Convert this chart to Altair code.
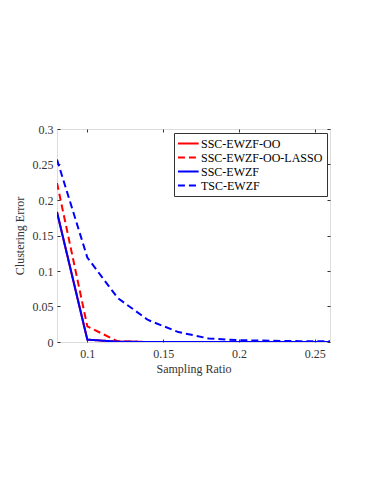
import altair as alt
import pandas as pd

x_vals = [0.08, 0.10, 0.12, 0.14, 0.16, 0.18, 0.20, 0.22, 0.24, 0.26]
ssc_oo = [0.183, 0.0033, 0.0005, 0.0, 0.0, 0.0, 0.0, 0.0, 0.0, 0.0]
ssc_oo_lasso = [0.224, 0.022, 0.001, 0.0, 0.0, 0.0, 0.0, 0.0, 0.0, 0.0]
ssc = [0.183, 0.0033, 0.0005, 0.0, 0.0, 0.0, 0.0, 0.0, 0.0, 0.0]
tsc = [0.257, 0.119, 0.062, 0.031, 0.014, 0.005, 0.0025, 0.0018, 0.0012, 0.001]

names = ["SSC-EWZF-OO", "SSC-EWZF-OO-LASSO", "SSC-EWZF", "TSC-EWZF"]
colors = ["#ff0000", "#ff0000", "#0000ff", "#0000ff"]
dashes = [[1, 0], [7, 4], [1, 0], [7, 4]]
series = {"SSC-EWZF-OO": ssc_oo, "SSC-EWZF-OO-LASSO": ssc_oo_lasso,
          "SSC-EWZF": ssc, "TSC-EWZF": tsc}
draw_order = ["TSC-EWZF", "SSC-EWZF-OO-LASSO", "SSC-EWZF-OO", "SSC-EWZF"]

x_ticks = [0.1, 0.15, 0.2, 0.25]
y_ticks = [0, 0.05, 0.1, 0.15, 0.2, 0.25, 0.3]

rows = []
for n in draw_order:
    for xv, yv in zip(x_vals, series[n]):
        rows.append({"ratio": xv, "err": yv, "method": n})
df = pd.DataFrame(rows)

W, H = 273, 213
FONT = "Times New Roman, Liberation Serif, serif"
GRAY = "#333333"

xscale = alt.Scale(domain=[0.08, 0.26], nice=False, zero=False)
yscale = alt.Scale(domain=[0, 0.3], nice=False)

leg = alt.Legend(title=None, orient="none", legendX=117, legendY=4,
                 symbolType="M-1.25,0H2.7", symbolSize=110, symbolStrokeWidth=2,
                 labelFont=FONT, labelFontSize=12, labelColor="black",
                 labelFontWeight="normal",
                 strokeColor=GRAY, padding=4, rowPadding=1,
                 fillColor="white", labelOffset=10, labelLimit=200)

color_enc = alt.Color("method:N", sort=names,
                      scale=alt.Scale(domain=names, range=colors), legend=leg)
dash_enc = alt.StrokeDash("method:N", sort=names,
                          scale=alt.Scale(domain=names, range=dashes), legend=leg)

x_main = alt.X("ratio:Q", scale=xscale, title="Sampling Ratio",
               axis=alt.Axis(values=x_ticks, tickSize=0, domain=False, grid=False,
                             labelFont=FONT, labelFontSize=12, labelColor=GRAY,
                             labelFontWeight="normal",
                             labelPadding=6, titleFont=FONT, titleFontSize=12,
                             titleFontWeight="normal", titleColor=GRAY, titlePadding=4,
                             labelFlush=False, labelExpr="format(datum.value, '.2~f')"))
y_main = alt.Y("err:Q", scale=yscale, title="Clustering Error",
               axis=alt.Axis(values=y_ticks, tickSize=0, domain=False, grid=False,
                             labelFont=FONT, labelFontSize=12, labelColor=GRAY,
                             labelFontWeight="normal",
                             labelPadding=4, titleFont=FONT, titleFontSize=12,
                             titleFontWeight="normal", titleColor=GRAY, titlePadding=6,
                             labelFlush=False, labelExpr="format(datum.value, '.2~f')"))

lines = alt.Chart(df).mark_line(strokeWidth=2, clip=True).encode(
    x=x_main, y=y_main, color=color_enc, strokeDash=dash_enc, detail="method:N")

def tick_axis(orient, offset, values):
    return alt.Axis(orient=orient, offset=offset, values=values, labels=False, title=None,
                    domain=False, grid=False, tickSize=3, tickColor=GRAY, tickWidth=1)

ticks_layer1 = alt.Chart(df).mark_point(opacity=0).encode(
    x=alt.X("ratio:Q", scale=xscale, axis=tick_axis("top", -H, x_ticks)),
    y=alt.Y("err:Q", scale=yscale, axis=tick_axis("right", -W, y_ticks)))
ticks_layer2 = alt.Chart(df).mark_point(opacity=0).encode(
    x=alt.X("ratio:Q", scale=xscale, axis=tick_axis("bottom", -H, x_ticks)),
    y=alt.Y("err:Q", scale=yscale, axis=tick_axis("left", -W, y_ticks)))

chart = alt.layer(ticks_layer1, ticks_layer2, lines).resolve_axis(
    x="independent", y="independent").properties(
    width=W, height=H,
    autosize=alt.AutoSizeParams(type="none"),
    padding={"left": 49, "top": 121, "right": 30, "bottom": 120},
).configure_view(stroke=GRAY, strokeWidth=1).configure(background="white")

chart.save("out.html", embed_options={"renderer": "svg", "actions": False})
